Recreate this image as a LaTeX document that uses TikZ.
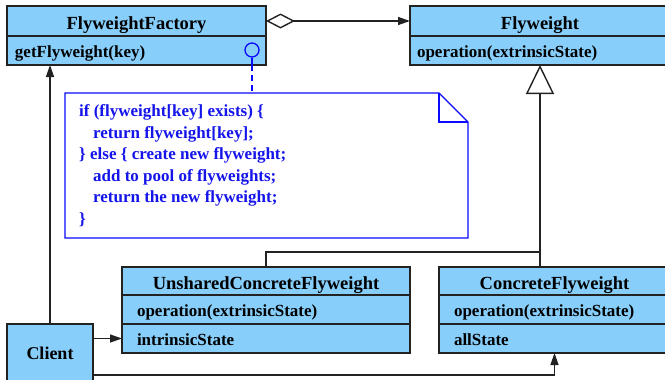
\documentclass[tikz,border=0pt]{standalone}
\usepackage{fontspec}
\setmainfont{Liberation Serif}
\usetikzlibrary{arrows.meta,calc}
\definecolor{boxc}{RGB}{135,206,250}
\definecolor{linec}{RGB}{34,34,34}
\definecolor{noteblue}{RGB}{10,10,255}
\definecolor{notetext}{RGB}{20,20,235}

\begin{document}
\begin{tikzpicture}[x=1pt,y=-1pt,
  box/.style={draw=linec, fill=boxc, line width=1.4pt, outer sep=0pt, inner ysep=0pt, anchor=north west},
  headbox/.style={box, inner xsep=0pt, align=center, font=\fontsize{18.5}{20}\selectfont\bfseries, text height=17pt, text depth=1pt},
  attrbox/.style={box, align=left, font=\fontsize{17}{19}\selectfont\bfseries, text height=15pt, text depth=1pt},
  wire/.style={draw=linec, line width=1.4pt},
  assoc/.style={wire, -{Triangle[length=12pt,width=8pt]}},
  inherit/.style={wire, -{Triangle[fill=white,length=29pt,width=28pt]}},
  aggreg/.style={wire, {Diamond[fill=white,length=29pt,width=15pt]}-{Triangle[length=12pt,width=8pt]}},
  noteline/.style={draw=noteblue, line width=1.3pt, line join=miter}
]
\clip (0,0) rectangle (665,380);
\fill[white] (0,0) rectangle (665,380);

% FlyweightFactory
\node[headbox, text width=259pt, minimum height=30pt] (fft) at (7,6) {FlyweightFactory};
\node[attrbox, inner xsep=8pt, text width=243pt, minimum height=29pt] (ffa) at (7,36) {getFlyweight(key)};

% Flyweight
\node[headbox, text width=260pt, minimum height=30pt] (fwt) at (410,6) {Flyweight};
\node[attrbox, inner xsep=7pt, text width=246pt, minimum height=29pt] (fwa) at (410,36) {operation(extrinsicState)};

% UnsharedConcreteFlyweight
\node[headbox, text width=288pt, minimum height=28pt] (ut) at (122,267) {UnsharedConcreteFlyweight};
\node[attrbox, inner xsep=15pt, text width=258pt, minimum height=29pt] (ua1) at (122,295) {operation(extrinsicState)};
\node[attrbox, inner xsep=15pt, text width=258pt, minimum height=29pt] (ua2) at (122,324) {intrinsicState};

% ConcreteFlyweight
\node[headbox, text width=231pt, minimum height=28pt] (ct) at (439,267) {ConcreteFlyweight};
\node[attrbox, inner xsep=15pt, text width=201pt, minimum height=29pt] (ca1) at (439,295) {operation(extrinsicState)};
\node[attrbox, inner xsep=15pt, text width=201pt, minimum height=29pt] (ca2) at (439,324) {allState};

% Client
\node[box, inner xsep=0pt, text width=86pt, align=center, minimum height=58pt,
      font=\fontsize{18}{20}\selectfont\bfseries, text height=13pt, text depth=1pt] (cl) at (7,324) {Client};

% note attached to getFlyweight
\node[anchor=north west, minimum width=403pt, minimum height=145pt, inner sep=0pt, outer sep=0pt] (note) at (65,93) {};
\draw[noteline] (note.north west) -- ($(note.north east)+(-29,0)$) -- ($(note.north east)+(0,29)$)
  -- (note.south east) -- (note.south west) -- cycle;
\draw[noteline] ($(note.north east)+(-29,0)$) -- ($(note.north east)+(-29,29)$) -- ($(note.north east)+(0,29)$);
\node[anchor=north west, inner sep=0pt, align=left, text=notetext,
      font=\fontsize{17}{21.5}\selectfont\bfseries] (code) at (79,104.5)
  {if (flyweight[key] exists) \{\\
   \hspace*{14pt}return flyweight[key];\\
   \} else \{ create new flyweight;\\
   \hspace*{14pt}add to pool of flyweights;\\
   \hspace*{14pt}return the new flyweight;\\
   \}};

\node[draw=noteblue, circle, minimum size=14pt, inner sep=0pt, line width=1.3pt] (knob) at (252,50) {};
\draw[draw=noteblue, line width=1.3pt] (knob.south) -- (knob.south |- ffa.south);
\draw[draw=noteblue, line width=1.3pt, dash pattern=on 6pt off 4pt] (knob.south |- ffa.south) -- (knob.south |- note.north);

% aggregation
\draw[aggreg] (fft.east) -- (fwt.west);

% generalisation
\coordinate (join) at (fwa.south |- 0,252);
\draw[inherit] (join) -- (fwa.south);
\draw[wire] (ut.north) |- (join);
\draw[wire] (ct.north -| join) -- (join);

% client associations
\draw[assoc] (cl.north) -- (cl.north |- ffa.south);
\draw[assoc] (cl.east |- ua2.west) -- (ua2.west);
\draw[assoc] (cl.east |- 0,375) -| (ca2.south);
\end{tikzpicture}
\end{document}
